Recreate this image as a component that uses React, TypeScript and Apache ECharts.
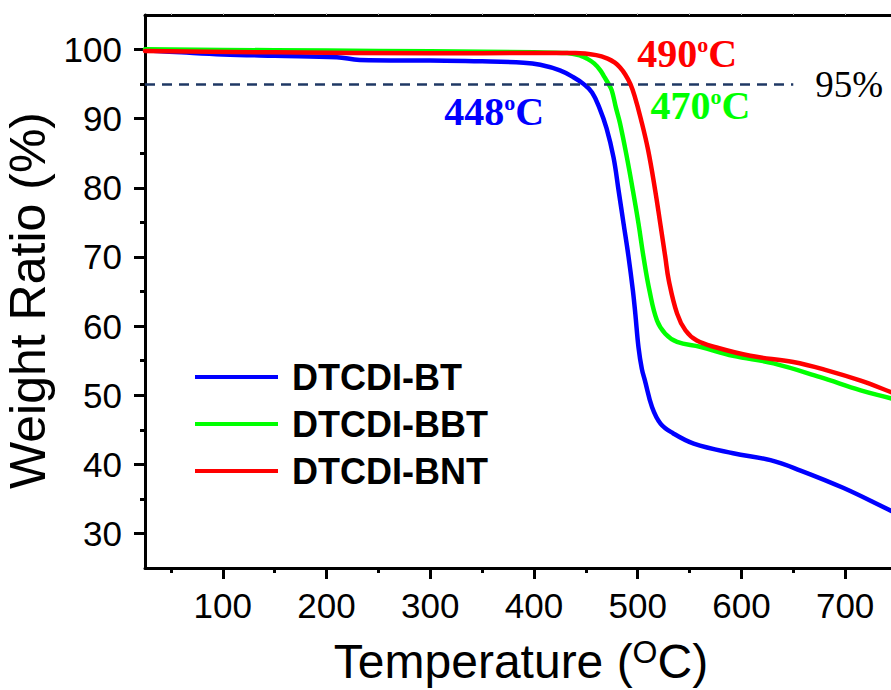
import React, { useEffect, useRef } from "react";
import * as echarts from "echarts";

// DTCDI-BT (blue)
const btTemp = [25, 60, 100, 150, 210, 232, 300, 350, 390, 406, 425, 438, 448, 456, 463, 470, 476.7, 481.6, 486.4, 491.2, 495.4, 497.7, 500.8, 504, 507, 513.8, 522, 534, 554, 592, 628, 657, 698, 744, 750];
const btWeight = [99.9, 99.6, 99.3, 99.1, 98.9, 98.5, 98.4, 98.3, 98.1, 97.8, 97.0, 96.0, 95.0, 93.8, 91.6, 88.6, 84.4, 79.6, 74.8, 70.0, 65.1, 61.8, 56.9, 53.8, 52.1, 48.3, 45.9, 44.5, 43.0, 41.6, 40.6, 39.1, 36.6, 33.3, 32.9];

// DTCDI-BBT (green)
const bbtTemp = [25, 100, 200, 300, 400, 432, 445, 451, 458, 464, 468, 472, 475, 479, 483, 489.6, 495.4, 500.8, 505.6, 511.4, 518.6, 526.6, 538, 560, 592, 631, 676, 715, 745, 750];
const bbtWeight = [100.05, 99.95, 99.85, 99.75, 99.6, 99.5, 99.1, 98.7, 98.0, 97.0, 96.0, 95.0, 94.1, 91.6, 89.3, 84.4, 79.6, 74.8, 70.0, 65.1, 60.8, 58.9, 57.7, 57.0, 55.7, 54.6, 52.6, 50.7, 49.5, 49.2];

// DTCDI-BNT (red)
const bntTemp = [25, 150, 300, 400, 440, 460, 471, 478, 483, 488, 493, 497, 503, 510, 516.9, 521.8, 526.6, 530, 538, 546, 557, 576, 608.6, 650, 682.5, 715, 745, 750];
const bntWeight = [99.8, 99.6, 99.45, 99.5, 99.5, 99.2, 98.7, 98.1, 97.4, 96.4, 95.0, 93.3, 90.0, 85.5, 79.6, 74.8, 70.0, 66.6, 61.8, 59.4, 57.9, 56.9, 55.7, 54.8, 53.6, 52.1, 50.4, 50.1];

const seriesNames = ["DTCDI-BT", "DTCDI-BBT", "DTCDI-BNT"];
const onsetTemps = ["448", "470", "490"];
// annotation anchor points (data units)
const onsetLabelTemp = [361.6, 560.4, 547.8];
const onsetLabelWeight = [91.0, 91.9, 99.4];

const thresholdWeight = 95;
const thresholdEndTemp = 650;

const xMajorTicks = [100, 200, 300, 400, 500, 600, 700];
const xMinorTicks = [50, 150, 250, 350, 450, 550, 650];
const xTopTicks = [50, 100, 150, 200, 250, 300, 350, 400, 450, 500, 550, 600, 650, 700];
const yMajorTicks = [30, 40, 50, 60, 70, 80, 90, 100];
const yMinorTicks = [35, 45, 55, 65, 75, 85, 95];

const colors = ["#0000ff", "#00ff00", "#ff0000"];
const SANS = "Liberation Sans";
const SERIF = "Liberation Serif";

export default function App() {
  const ref = useRef<HTMLDivElement>(null);

  useEffect(() => {
    if (!ref.current) return;
    const chart = echarts.init(ref.current, undefined, { renderer: "svg" });
    const temps = [btTemp, bbtTemp, bntTemp];
    const weights = [btWeight, bbtWeight, bntWeight];

    const series: any[] = seriesNames.map((name, i) => {
      const s: any = {
        name,
        type: "line",
        xAxisIndex: 0,
        yAxisIndex: 0,
        data: temps[i].map((t, j) => [t, weights[i][j]]),
        showSymbol: false,
        symbol: "none",
        smooth: 0.4,
        color: colors[i],
        lineStyle: { width: 4.5, color: colors[i], join: "round", cap: "round" },
        z: 3 + i,
        markPoint: {
          silent: true,
          symbol: "circle",
          symbolSize: 0,
          data: [
            {
              coord: [onsetLabelTemp[i], onsetLabelWeight[i]],
              label: {
                show: true,
                position: "inside",
                formatter: `{n|${onsetTemps[i]}}{s|o}{n|C}`,
                rich: {
                  n: { fontFamily: SERIF, fontWeight: "bold", fontSize: 40, lineHeight: 40, color: colors[i] },
                  s: { fontFamily: SERIF, fontWeight: "bold", fontSize: 22, lineHeight: 22, verticalAlign: "top", color: colors[i] },
                },
              },
            },
          ],
        },
      };
      if (i === 0) {
        s.markLine = {
          silent: true,
          symbol: ["none", "none"],
          lineStyle: { type: [10, 7], color: "#1f3864", width: 2.5 },
          label: {
            show: true,
            position: "end",
            distance: 22,
            formatter: "95%",
            fontFamily: SERIF,
            fontSize: 37,
            color: "#000",
          },
          data: [[{ coord: [25, thresholdWeight] }, { coord: [thresholdEndTemp, thresholdWeight] }]],
        };
      }
      return s;
    });

    const baseX = { type: "value", min: 25, max: 750, gridIndex: 0, splitLine: { show: false } };
    const baseY = { type: "value", min: 25, max: 105, gridIndex: 0, splitLine: { show: false } };

    chart.setOption({
      animation: false,
      backgroundColor: "#ffffff",
      grid: { left: 145, top: 15, right: 13, bottom: 122, containLabel: false, outerBoundsMode: "none" },
      legend: {
        data: seriesNames,
        orient: "vertical",
        left: 195,
        top: 359,
        padding: 0,
        icon: "rect",
        itemWidth: 83,
        itemHeight: 4,
        itemGap: 11,
        selectedMode: false,
        textStyle: {
          fontFamily: SANS,
          fontWeight: "bold",
          fontSize: 36,
          lineHeight: 36,
          color: "#000",
          padding: [0, 0, 0, 9],
        },
      },
      xAxis: [
        {
          ...baseX,
          position: "bottom",
          axisLine: { show: true, onZero: false, lineStyle: { color: "#000", width: 3 } },
          axisTick: { show: true, customValues: xMajorTicks, length: 11, lineStyle: { color: "#000", width: 3 } },
          axisLabel: { customValues: xMajorTicks, fontFamily: SANS, fontSize: 35, color: "#000", margin: 20 },
          name: "{a|Temperature (}{b|O}{a|C)}",
          nameLocation: "middle",
          nameGap: 68,
          nameTextStyle: {
            rich: {
              a: { fontFamily: SANS, fontSize: 48, lineHeight: 50, color: "#000" },
              b: { fontFamily: SANS, fontSize: 32, lineHeight: 32, verticalAlign: "top", color: "#000" },
            },
          },
        },
        {
          ...baseX,
          position: "bottom",
          axisLine: { show: false, onZero: false },
          axisTick: { show: true, customValues: xMinorTicks, length: 5, lineStyle: { color: "#000", width: 3 } },
          axisLabel: { show: false },
        },
        {
          ...baseX,
          position: "top",
          axisLine: { show: true, onZero: false, lineStyle: { color: "#000", width: 3 } },
          axisTick: { show: true, customValues: xTopTicks, length: 2, lineStyle: { color: "#bbbbbb", width: 1 } },
          axisLabel: { show: false },
        },
      ],
      yAxis: [
        {
          ...baseY,
          position: "left",
          axisLine: { show: true, onZero: false, lineStyle: { color: "#000", width: 3 } },
          axisTick: { show: true, customValues: yMajorTicks, length: 11, lineStyle: { color: "#000", width: 3 } },
          axisLabel: { customValues: yMajorTicks, fontFamily: SANS, fontSize: 35, color: "#000", margin: 23 },
          name: "Weight Ratio (%)",
          nameLocation: "middle",
          nameGap: 83,
          nameTextStyle: { fontFamily: SANS, fontSize: 50, color: "#000", padding: [0, 18, 0, 0] },
        },
        {
          ...baseY,
          position: "left",
          axisLine: { show: false, onZero: false },
          axisTick: { show: true, customValues: yMinorTicks, length: 5, lineStyle: { color: "#000", width: 3 } },
          axisLabel: { show: false },
        },
      ],
      series,
    });

    return () => {
      chart.dispose();
    };
  }, []);

  return (
    <div
      style={{
        position: "fixed",
        left: 0,
        top: 0,
        width: 891,
        height: 690,
        overflow: "hidden",
        background: "#fff",
      }}
    >
      <div ref={ref} style={{ width: 910, height: 690 }} />
    </div>
  );
}
